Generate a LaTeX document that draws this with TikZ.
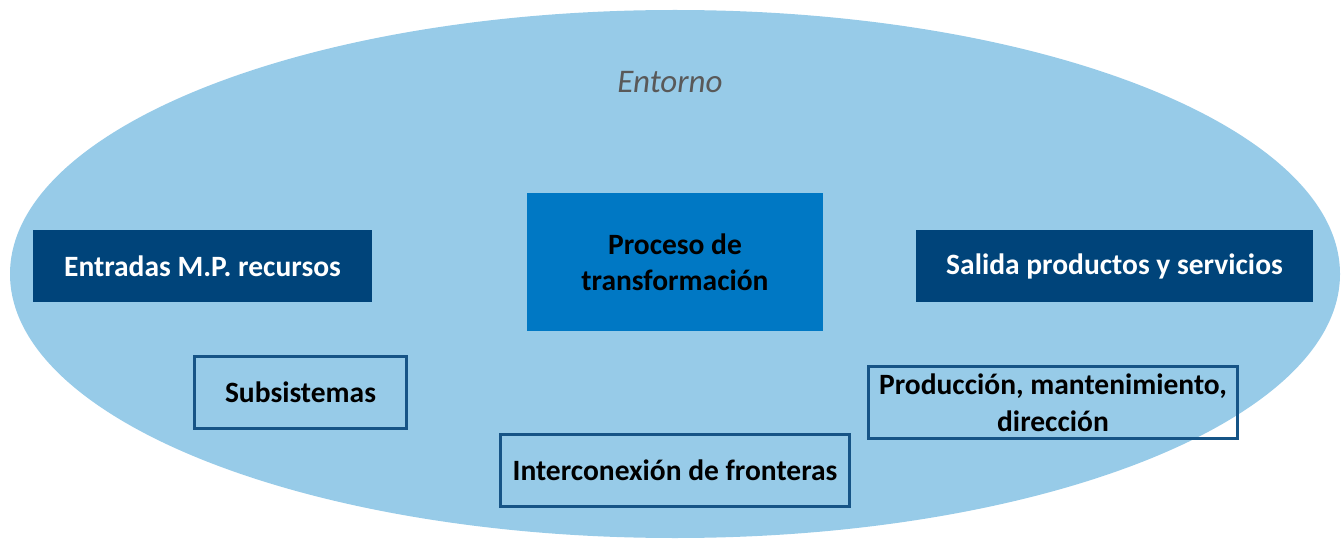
\documentclass[tikz,border=0pt]{standalone}
\usepackage{fontspec}
\setmainfont{Carlito}
\definecolor{envblue}{RGB}{151,203,232}
\definecolor{navy}{RGB}{0,68,122}
\definecolor{procblue}{RGB}{0,120,196}
\definecolor{edgeblue}{RGB}{22,84,134}
\definecolor{envtext}{RGB}{89,89,89}
\begin{document}
\begin{tikzpicture}[x=1pt,y=-1pt,
  darkbox/.style={fill=navy,draw=none,text=white,font=\bfseries\fontsize{29.5}{36}\selectfont,inner sep=0pt},
  procbox/.style={fill=procblue,draw=none,text=black,font=\bfseries\fontsize{29.5}{36}\selectfont,align=center,inner sep=0pt},
  outbox/.style={fill=none,draw=edgeblue,line width=3pt,text=black,font=\bfseries\fontsize{29.5}{37}\selectfont,align=center,inner sep=0pt}]
\useasboundingbox (0,0) rectangle (1341,540);
\fill[envblue] (675,274) ellipse [x radius=665, y radius=264];
\node[font=\itshape\fontsize{33}{38}\selectfont,text=envtext] (entorno) at (670,82) {Entorno};
\node[darkbox,minimum width=339pt,minimum height=72pt] (entradas) at (202.5,266) {Entradas M.P. recursos};
\node[darkbox,minimum width=397pt,minimum height=72pt] (salida) at (1114.5,266) {Salida productos y servicios};
\node[procbox,minimum width=296pt,minimum height=138pt] (proceso) at (675,262) {Proceso de\\transformación};
\node[outbox,minimum width=212pt,minimum height=72pt] (subs) at (300.5,392.5) {Subsistemas};
\node[outbox,minimum width=369pt,minimum height=72pt] (prod) at (1053,402.5) {Producción, mantenimiento,\\dirección};
\node[outbox,minimum width=349pt,minimum height=72pt] (inter) at (675,470.5) {Interconexión de fronteras};
\end{tikzpicture}
\end{document}
